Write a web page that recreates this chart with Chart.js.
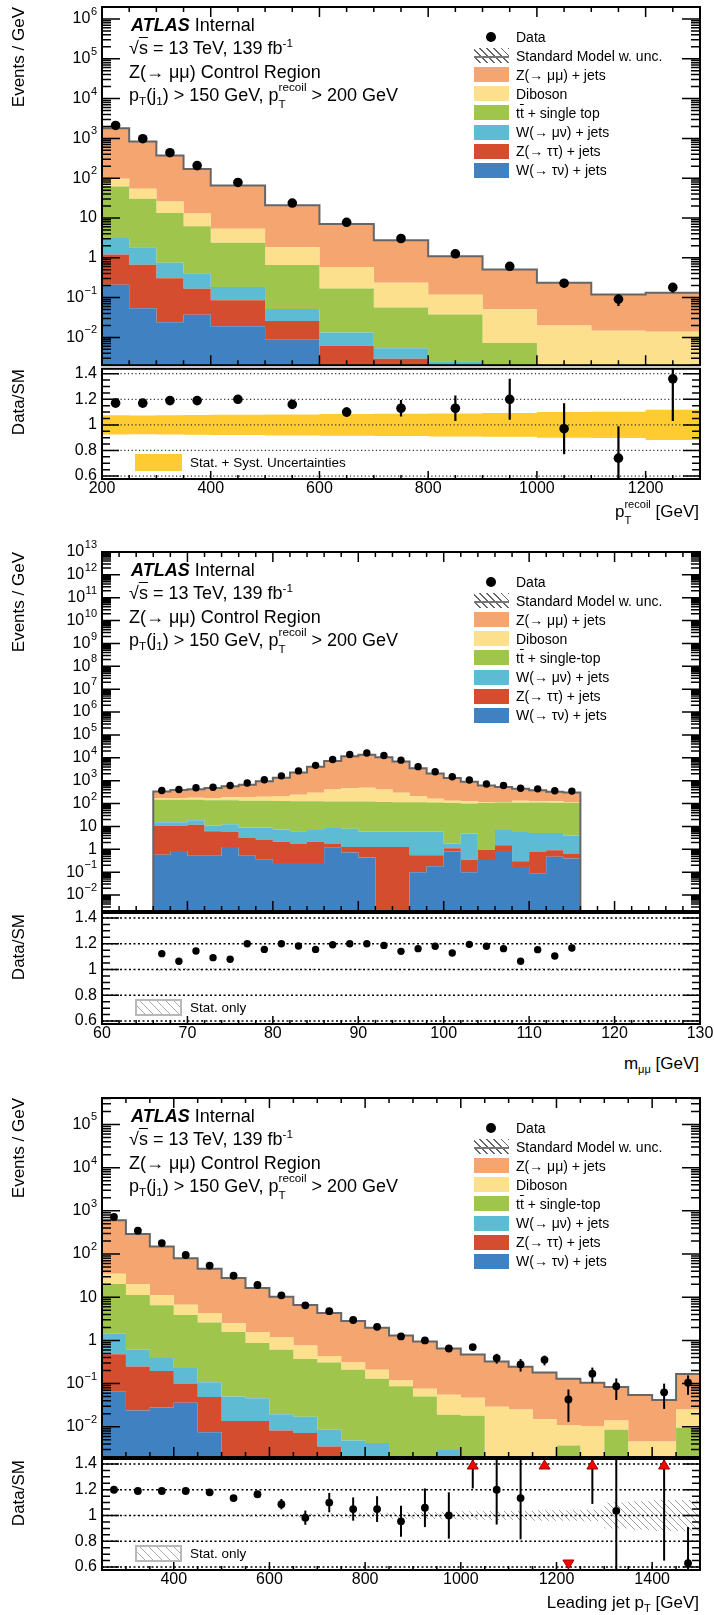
<!DOCTYPE html>
<html>
<head>
<meta charset="utf-8">
<title>Z(→μμ) control region</title>
<script src="https://cdn.jsdelivr.net/npm/chart.js@4.4.1/dist/chart.umd.min.js"></script>
<style>
  html, body { margin: 0; padding: 0; background: #fff; }
  #page { position: relative; width: 714px; height: 1615px; overflow: hidden;
          font-family: "Liberation Sans", Arial, Helvetica, sans-serif; color: #000; }
  #page canvas { position: absolute; left: 0; }
  .t { position: absolute; white-space: nowrap; line-height: 1; }
  .sup { font-size: 0.65em; position: relative; top: -0.6em; }
  .sub { font-size: 0.65em; position: relative; top: 0.4em; }
  .ss { display: inline-block; position: relative; font-size: 0.65em; }
  .ss .a { position: relative; top: -0.8em; }
  .ss .b { position: absolute; left: 0; top: 0.65em; }
  .ov { text-decoration: overline; }
  .vt { writing-mode: vertical-rl; transform: rotate(180deg); }
  .sw { position: absolute; }
</style>
</head>
<body>
<div id="page"></div>
<script>
// ---------- recoil pT panel ----------
const recoilEdges = [200, 250, 300, 350, 400, 500, 600, 700, 800, 900, 1000, 1100, 1200, 1300];
const recoilData = [2110, 980, 437, 207, 78, 23.7, 7.8, 3.05, 1.26, 0.61, 0.23, 0.091, 0.18];
const recoilDataErr = [20, 10, 6, 3, 0.9, 0.5, 0.25, 0.18, 0.11, 0.08, 0.048, 0.03, 0.045];
const recoilZmumu = [1707, 776, 344, 158, 60.2, 19.0, 6.5, 2.53, 0.98, 0.46, 0.217, 0.105, 0.119];
const recoilDiboson = [34, 23.5, 12.7, 6.8, 3.0, 1.18, 0.42, 0.18, 0.08, 0.044, 0.02, 0.0147, 0.0139];
const recoilTop = [59, 28.7, 12.5, 5.8, 2.19, 0.61, 0.155, 0.051, 0.035, 0.0072, 0, 0, 0];
const recoilWmunu = [1.95, 1.18, 0.45, 0.24, 0.099, 0.026, 0.0071, 0.0024, 0.0025, 0, 0, 0, 0];
const recoilZtautau = [1.0, 0.61, 0.28, 0.13, 0.067, 0.017, 0.0062, 0.0029, 0, 0, 0, 0, 0];
const recoilWtaunu = [0.21, 0.054, 0.024, 0.037, 0.019, 0.0087, 0, 0, 0, 0, 0, 0, 0];
const recoilRatio = [1.17, 1.17, 1.19, 1.19, 1.2, 1.16, 1.1, 1.13, 1.13, 1.2, 0.97, 0.74, 1.36];
const recoilRatioErr = [0.01, 0.012, 0.013, 0.015, 0.013, 0.02, 0.035, 0.065, 0.1, 0.16, 0.2, 0.25, 0.33];
const recoilBand = [0.075, 0.074, 0.076, 0.077, 0.08, 0.082, 0.085, 0.087, 0.09, 0.093, 0.1, 0.103, 0.118];
const recoilTicks = [200, 400, 600, 800, 1000, 1200];

// ---------- m_mumu panel ----------
const mllEdges = [66, 68, 70, 72, 74, 76, 78, 80, 82, 84, 86, 88, 90, 92, 94, 96, 98, 100, 102, 104, 106, 108, 110, 112, 114, 116];
const mllData = [372, 410, 487, 518, 611, 795, 1100, 1630, 2680, 4690, 8470, 13900, 16300, 12600, 7900, 4100, 2440, 1480, 1070, 720, 611, 468, 440, 362, 350];
const mllZmumu = [157, 212, 246, 300, 379, 470, 748, 1145, 2028, 3747, 6767, 11212, 13098, 10267, 6634, 3328, 1921, 1175, 773, 497, 409, 307, 257, 203, 184];
const mllDiboson = [27, 27, 33, 36, 48, 58, 65, 83, 117, 170, 289, 347, 363, 293, 182, 92, 54, 27, 26, 11, 8, 24, 16, 19, 11];
const mllTop = [133, 133, 129, 128, 126, 125, 125, 123, 120, 119, 113, 114, 116, 112, 108, 108, 104, 105, 95, 106, 103, 104, 105, 102, 103];
const mllWmunu = [4.6, 4.6, 6.9, 4.9, 6.9, 5.9, 6.4, 5.1, 4.3, 4.9, 6.7, 6.6, 4.8, 4.8, 4.8, 5.5, 5.5, 0.7, 4.5, 0, 5.5, 5.4, 4.4, 4.3, 3.35];
const mllZtautau = [10.1, 9.9, 11.3, 5.6, 4.4, 2.6, 2.3, 1.9, 1.55, 1.9, 0.62, 0.54, 0.82, 1.26, 1.26, 0.45, 0.37, 0.3, 0.25, 0.6, 0.65, 0.13, 0.71, 0.43, 0.25];
const mllWtaunu = [0.57, 0.85, 0.52, 0.52, 1.26, 0.52, 0.37, 0.25, 0.25, 0.25, 1.18, 0.72, 0.44, 0, 0, 0.1, 0.18, 0.8, 0.1, 0.34, 0.85, 0.17, 0.09, 0.47, 0.4];
const mllRatio = [1.123, 1.064, 1.144, 1.092, 1.08, 1.2, 1.156, 1.2, 1.182, 1.156, 1.192, 1.2, 1.2, 1.187, 1.141, 1.162, 1.18, 1.128, 1.195, 1.18, 1.162, 1.064, 1.154, 1.105, 1.167];
const mllRatioErr = [0.025, 0.022, 0.02, 0.018, 0.016, 0.014, 0.012, 0.01, 0.008, 0.007, 0.006, 0.005, 0.005, 0.005, 0.006, 0.007, 0.009, 0.011, 0.012, 0.014, 0.016, 0.018, 0.02, 0.022, 0.025];
const mllBand = [0.012, 0.011, 0.01, 0.01, 0.009, 0.008, 0.007, 0.006, 0.005, 0.004, 0.003, 0.003, 0.003, 0.003, 0.003, 0.004, 0.005, 0.006, 0.007, 0.008, 0.009, 0.01, 0.01, 0.011, 0.012];
const mllTicks = [60, 70, 80, 90, 100, 110, 120, 130];

// ---------- leading jet pT panel ----------
const jetEdges = [250, 300, 350, 400, 450, 500, 550, 600, 650, 700, 750, 800, 850, 900, 950, 1000, 1050, 1100, 1150, 1200, 1250, 1300, 1350, 1400, 1450, 1500];
const jetData = [724, 348, 179, 95, 54, 31.4, 19.2, 11.1, 6.5, 4.76, 2.97, 2.06, 1.24, 1.0, 0.65, 0.70, 0.39, 0.28, 0.355, 0.043, 0.17, 0.087, 0, 0.063, 0.105];
const jetDataErr = [8, 6, 4, 3, 2, 1.3, 0.8, 0.5, 0.35, 0.3, 0.25, 0.2, 0.15, 0.14, 0.11, 0.12, 0.1, 0.09, 0.09, 0.03, 0.065, 0.045, 0, 0.037, 0.05];
const jetZmumu = [568, 272, 139, 73, 41.5, 25.2, 14.9, 9.0, 5.84, 3.89, 2.52, 1.75, 1.18, 0.864, 0.595, 0.423, 0.296, 0.222, 0.165, 0.119, 0.094, 0.070, 0.050, 0.037, 0.142];
const jetDiboson = [14.7, 8.8, 4.7, 2.8, 1.7, 0.93, 0.69, 0.59, 0.39, 0.13, 0.10, 0.08, 0.033, 0.026, 0.036, 0.029, 0.029, 0.025, 0.015, 0.0073, 0.0104, 0.0055, 0.0046, 0.0046, 0.0155];
const jetTop = [18.9, 10.6, 6.1, 3.67, 2.49, 1.52, 0.83, 0.59, 0.353, 0.30, 0.205, 0.126, 0.087, 0.05, 0.016, 0.018, 0, 0, 0, 0.0037, 0, 0.0085, 0, 0, 0.0095];
const jetWmunu = [0.96, 0.36, 0.195, 0.13, 0.059, 0.037, 0.032, 0.0114, 0.0098, 0.005, 0.0048, 0.0042, 0, 0, 0.0029, 0, 0, 0, 0, 0, 0, 0, 0, 0, 0];
const jetZtautau = [0.41, 0.226, 0.167, 0.064, 0.0415, 0.0136, 0.0136, 0.0082, 0.0072, 0.0035, 0, 0, 0, 0, 0, 0, 0, 0, 0, 0, 0, 0, 0, 0, 0];
const jetWtaunu = [0.067, 0.024, 0.028, 0.036, 0.0075, 0, 0, 0, 0, 0, 0, 0, 0, 0, 0, 0, 0, 0, 0, 0, 0, 0, 0, 0, 0];
const jetRatio = [1.2, 1.19, 1.19, 1.19, 1.18, 1.135, 1.165, 1.088, 0.983, 1.1, 1.05, 1.05, 0.955, 1.06, 1.0, 1.49, 1.2, 1.135, 1.97, 0.33, 1.63, 1.036, null, 1.5, 0.63];
const jetRatioErr = [0.006, 0.007, 0.008, 0.01, 0.012, 0.015, 0.025, 0.04, 0.055, 0.075, 0.09, 0.1, 0.12, 0.15, 0.18, 0.28, 0.27, 0.32, 0.45, 0.23, 0.54, 0.5, 0, 0.85, 0.28];
const jetBand = [0.004, 0.005, 0.006, 0.007, 0.008, 0.01, 0.012, 0.014, 0.016, 0.018, 0.02, 0.022, 0.025, 0.028, 0.03, 0.033, 0.035, 0.035, 0.04, 0.04, 0.045, 0.1, 0.11, 0.12, 0.12];
const jetTicks = [400, 600, 800, 1000, 1200, 1400];

const ratioTicks = [0.6, 0.8, 1, 1.2, 1.4];

// ---------- styling ----------
const C = {
  zmumu: '#f4a570', diboson: '#fde08d', top: '#9fc54c', wmunu: '#5dbcd3',
  ztautau: '#d54d2f', wtaunu: '#3f81c1', band: '#fecb30', sm: '#666666'
};
const FONT = '"Liberation Sans", Arial, Helvetica, sans-serif';
const page = document.getElementById('page');

function addDiv(html, style, cls) {
  const d = document.createElement('div');
  d.className = 't' + (cls ? ' ' + cls : '');
  d.innerHTML = html;
  Object.assign(d.style, style);
  page.appendChild(d);
  return d;
}
const px = v => v + 'px';
const SS = (up, dn) => `<span class="ss"><span class="a">${up}</span><span class="b">${dn}</span></span>`;

function centers(edges) { return edges.slice(0, -1).map((e, i) => (e + edges[i + 1]) / 2); }
function steps(edges, vals, floor) {
  const pts = vals.map((v, i) => ({ x: edges[i], y: Math.max(v, floor) }));
  pts.push({ x: edges[edges.length - 1], y: Math.max(vals[vals.length - 1], floor) });
  return pts;
}
function range(a, b, s) { const o = []; for (let v = a; v <= b + 1e-9; v += s) o.push(+v.toFixed(6)); return o; }

function hatchPattern(color, s, w) {
  const c = document.createElement('canvas');
  c.width = s; c.height = s;
  const g = c.getContext('2d');
  g.strokeStyle = color; g.lineWidth = w;
  g.beginPath();
  g.moveTo(0, 0); g.lineTo(s, s);
  g.moveTo(-s, 0); g.lineTo(s, 2 * s);
  g.moveTo(0, -s); g.lineTo(2 * s, s);
  g.stroke();
  return g.createPattern(c, 'repeat');
}

// ROOT-like frame, ticks, labels, error bars drawn through the chart scales
function rootPlugin(spec) {
  return {
    id: 'rootFrame',
    beforeDatasetDraw(chart, args) {
      if (args.index !== 0 || !spec.grid) return;
      const { ctx, chartArea: a, scales: { y } } = chart;
      ctx.save();
      ctx.strokeStyle = spec.gridColor; ctx.lineWidth = spec.gridWidth; ctx.setLineDash(spec.gridDash);
      spec.grid.forEach(v => {
        const py = y.getPixelForValue(v);
        ctx.beginPath(); ctx.moveTo(a.left, py); ctx.lineTo(a.right, py); ctx.stroke();
      });
      ctx.restore();
    },
    afterDatasetsDraw(chart) {
      const { ctx, chartArea: a, scales: { x, y } } = chart;
      if (!spec.err) return;
      ctx.save();
      ctx.beginPath(); ctx.rect(a.left, a.top, a.right - a.left, a.bottom - a.top); ctx.clip();
      ctx.strokeStyle = '#000'; ctx.lineWidth = spec.errWidth;
      spec.err.x.forEach((c, i) => {
        const v = spec.err.v[i], e = spec.err.e[i];
        if (v == null || !v || !e) return;
        const lo = v - e, hi = v + e;
        const pLo = lo > 0 ? y.getPixelForValue(lo) : a.bottom + 10;
        const pHi = y.getPixelForValue(hi);
        const cx = x.getPixelForValue(c);
        ctx.beginPath(); ctx.moveTo(cx, pLo); ctx.lineTo(cx, pHi); ctx.stroke();
      });
      ctx.restore();
      if (spec.arrows) {
        ctx.save();
        ctx.fillStyle = '#ff0000'; ctx.strokeStyle = '#990000'; ctx.lineWidth = 1;
        spec.err.x.forEach((c, i) => {
          const v = spec.err.v[i];
          if (v == null) return;
          const cx = x.getPixelForValue(c);
          if (v > y.max) {
            ctx.beginPath(); ctx.moveTo(cx, a.top + 1); ctx.lineTo(cx + 5.5, a.top + 10); ctx.lineTo(cx - 5.5, a.top + 10); ctx.closePath();
            ctx.fill(); ctx.stroke();
          } else if (v < y.min) {
            ctx.beginPath(); ctx.moveTo(cx, a.bottom - 1); ctx.lineTo(cx + 5.5, a.bottom - 10); ctx.lineTo(cx - 5.5, a.bottom - 10); ctx.closePath();
            ctx.fill(); ctx.stroke();
          }
        });
        ctx.restore();
      }
    },
    afterDraw(chart) {
      const { ctx, chartArea: a, scales: { x, y } } = chart;
      ctx.save();
      ctx.strokeStyle = '#000'; ctx.fillStyle = '#000'; ctx.lineWidth = 1.5;
      ctx.beginPath();
      // x ticks
      spec.xMinor.concat(spec.xMajor).forEach(t => {
        const major = spec.xMajor.includes(t);
        const cx = x.getPixelForValue(t);
        const len = major ? spec.xLen[0] : spec.xLen[1];
        ctx.moveTo(cx, a.bottom); ctx.lineTo(cx, a.bottom - len);
        if (spec.xTop) { ctx.moveTo(cx, a.top); ctx.lineTo(cx, a.top + len); }
      });
      // y ticks
      const yt = [];
      if (spec.log) {
        const n0 = Math.floor(Math.log10(y.min)), n1 = Math.ceil(Math.log10(y.max));
        for (let n = n0; n <= n1; n++) {
          for (let k = 1; k <= 9; k++) {
            const v = k * Math.pow(10, n);
            if (v >= y.min && v <= y.max) yt.push([v, k === 1]);
          }
        }
      } else {
        range(0.6, 1.4, 0.05).forEach(v => { if (v >= y.min && v <= y.max) yt.push([v, spec.yMajor.some(m => Math.abs(m - v) < 1e-6)]); });
      }
      yt.forEach(([v, major]) => {
        const py = y.getPixelForValue(v);
        const len = major ? spec.yLen[0] : spec.yLen[1];
        ctx.moveTo(a.left, py); ctx.lineTo(a.left + len, py);
        ctx.moveTo(a.right, py); ctx.lineTo(a.right - len, py);
      });
      ctx.stroke();
      // frame
      ctx.lineWidth = 2;
      ctx.strokeRect(a.left, a.top, a.right - a.left, a.bottom - a.top);
      // labels
      const xr = a.left - 5;
      ctx.textBaseline = 'middle';
      if (spec.log) {
        const n0 = Math.ceil(Math.log10(y.min)), n1 = Math.floor(Math.log10(y.max) + 1e-9);
        for (let n = n0; n <= n1; n++) {
          const py = y.getPixelForValue(Math.pow(10, n));
          if (n === 0 || n === 1) {
            ctx.font = '16px ' + FONT; ctx.textAlign = 'right';
            ctx.fillText(n === 0 ? '1' : '10', xr, py);
          } else {
            const sup = n < 0 ? '\u2212' + (-n) : String(n);
            ctx.font = '11px ' + FONT;
            const sw = ctx.measureText(sup).width;
            ctx.textAlign = 'left';
            ctx.fillText(sup, xr - sw, py - 7);
            ctx.font = '16px ' + FONT; ctx.textAlign = 'right';
            ctx.fillText('10', xr - sw - 0.5, py);
          }
        }
      } else {
        ctx.font = '16px ' + FONT; ctx.textAlign = 'right';
        spec.yMajor.forEach(v => ctx.fillText(String(v), xr, y.getPixelForValue(v)));
      }
      if (spec.xLabels) {
        ctx.font = '16px ' + FONT; ctx.textAlign = 'center'; ctx.textBaseline = 'top';
        spec.xLabels.forEach(v => ctx.fillText(String(v), x.getPixelForValue(v), a.bottom + 2));
      }
      ctx.restore();
    }
  };
}

function makeCanvas(top, height) {
  const c = document.createElement('canvas');
  c.width = 714; c.height = height;
  c.style.top = px(top); c.style.width = '714px'; c.style.height = px(height);
  page.appendChild(c);
  return c;
}

function baseOptions(pad, xs, ys) {
  return {
    responsive: false, animation: false, devicePixelRatio: 1, events: [],
    layout: { padding: pad },
    elements: { line: { tension: 0 } },
    plugins: { legend: { display: false }, tooltip: { enabled: false } },
    scales: { x: Object.assign({ type: 'linear', display: false }, xs), y: Object.assign({ display: false }, ys) }
  };
}

function drawPanel(p, L) {
  const floor = 1e-5;
  const mids = centers(p.edges);
  // ---- main ----
  const procs = [p.wtaunu, p.ztautau, p.wmunu, p.top, p.diboson, p.zmumu];
  const cols = [C.wtaunu, C.ztautau, C.wmunu, C.top, C.diboson, C.zmumu];
  let run = p.zmumu.map(() => 0);
  const stack = procs.map((arr, k) => {
    run = run.map((v, i) => v + arr[i]);
    return { data: steps(p.edges, run, floor), stepped: true, fill: k === 0 ? 'start' : '-1',
      backgroundColor: cols[k], borderColor: 'rgba(0,0,0,0)', borderWidth: 1, pointRadius: 0 };
  });
  const outline = [{ x: p.edges[0], y: floor }].concat(steps(p.edges, run, floor), [{ x: p.edges[p.edges.length - 1], y: floor }]);
  const mainSets = [
    { data: mids.map((c, i) => ({ x: c, y: p.data[i] > 0 ? p.data[i] : null })), showLine: false,
      pointRadius: p.dot, pointBackgroundColor: '#000', pointBorderWidth: 0 },
    { data: outline, stepped: true, fill: false, borderColor: C.sm, borderWidth: 2, pointRadius: 0 }
  ].concat(stack);
  const mTop = L.T - 12, mH = L.S + 3 - mTop;
  const xMajor = p.xMajor, xMinor = range(p.xMin, p.xMax, p.xMinorStep).filter(v => !xMajor.includes(v));
  new Chart(makeCanvas(mTop, mH), {
    type: 'line',
    data: { datasets: mainSets },
    options: baseOptions({ top: 12, bottom: 3, left: 102, right: 14 },
      { min: p.xMin, max: p.xMax }, { type: 'logarithmic', min: p.yMin, max: p.yMax }),
    plugins: [rootPlugin({ log: true, xMajor, xMinor, xLen: [10, 5], yLen: [18, 9], xTop: true,
      err: p.dataErr ? { x: mids, v: p.data, e: p.dataErr } : null, errWidth: p.errW })]
  });
  // ---- ratio ----
  const rMin = 0.577, rMax = 1.4385;
  const bandFill = p.yellow ? C.band : hatchPattern('#a0a0a0', 7, 1);
  const ratioSets = [
    { data: mids.map((c, i) => { const v = p.ratio[i]; return { x: c, y: (v == null || v > rMax || v < rMin) ? null : v }; }),
      showLine: false, pointRadius: p.dot, pointBackgroundColor: '#000', pointBorderWidth: 0 },
    { data: steps(p.edges, p.band.map(b => 1 - b), 0), stepped: true, fill: false, borderColor: 'rgba(0,0,0,0)', borderWidth: 1, pointRadius: 0 },
    { data: steps(p.edges, p.band.map(b => 1 + b), 0), stepped: true, fill: '-1', backgroundColor: bandFill, borderColor: 'rgba(0,0,0,0)', borderWidth: 1, pointRadius: 0 }
  ];
  const rTop = L.S - 3, rH = L.B + 30 - rTop;
  new Chart(makeCanvas(rTop, rH), {
    type: 'line',
    data: { datasets: ratioSets },
    options: baseOptions({ top: 3, bottom: 30, left: 102, right: 14 },
      { min: p.xMin, max: p.xMax }, { type: 'linear', min: rMin, max: rMax }),
    plugins: [rootPlugin({ log: false, xMajor, xMinor, xLen: [8, 4], yLen: [17, 8], xTop: false,
      yMajor: ratioTicks, xLabels: p.xLabels,
      grid: ratioTicks, gridColor: p.yellow ? '#333' : '#000', gridWidth: p.yellow ? 1.2 : 1.6, gridDash: p.yellow ? [1.2, 2.5] : [2, 2.5],
      err: { x: mids, v: p.ratio, e: p.ratioErr }, errWidth: p.errW, arrows: true })]
  });

  // ---- text overlays ----
  const T = L.T;
  addDiv('<b><i>ATLAS</i></b> Internal', { left: '131px', top: px(T + 8.7), fontSize: '18px' });
  addDiv('\u221A<span class="ov">s</span> = 13 TeV, 139 fb<span class="sup">-1</span>', { left: '129px', top: px(T + 32.2), fontSize: '18px' });
  addDiv('Z(\u2192 \u03BC\u03BC) Control Region', { left: '129px', top: px(T + 56.2), fontSize: '18px' });
  addDiv('p<span class="sub">T</span>(j<span class="sub">1</span>) &gt; 150 GeV, p' + SS('recoil', 'T') + ' &gt; 200 GeV',
    { left: '129px', top: px(T + 78.7), fontSize: '18px' });

  const rows = [
    ['data', 'Data'],
    ['sm', 'Standard Model w. unc.'],
    [C.zmumu, 'Z(\u2192 \u03BC\u03BC) + jets'],
    [C.diboson, 'Diboson'],
    [C.top, 't<span class="ov">t</span> + ' + p.topLabel],
    [C.wmunu, 'W(\u2192 \u03BC\u03BD) + jets'],
    [C.ztautau, 'Z(\u2192 \u03C4\u03C4) + jets'],
    [C.wtaunu, 'W(\u2192 \u03C4\u03BD) + jets']
  ];
  rows.forEach(([kind, label], i) => {
    const cy = T + 29.5 + 19.1 * i;
    const sw = document.createElement('div');
    sw.className = 'sw';
    if (kind === 'data') {
      Object.assign(sw.style, { left: px(486), top: px(cy - 5), width: '10px', height: '10px', borderRadius: '50%', background: '#000' });
    } else if (kind === 'sm') {
      Object.assign(sw.style, { left: px(474), top: px(cy - 7.5), width: '35px', height: '15px',
        background: 'linear-gradient(#777,#777) 0 60%/100% 2px no-repeat, repeating-linear-gradient(45deg, #fff 0 4px, #666 4px 5px)' });
    } else {
      Object.assign(sw.style, { left: px(474), top: px(cy - 7.5), width: '35px', height: '15px', background: kind });
    }
    page.appendChild(sw);
    addDiv(label, { left: '516px', top: px(cy - 6.9), fontSize: '14px' });
  });

  addDiv('Events / GeV', { left: '10px', top: px(T), fontSize: '17px' }, 'vt');
  addDiv('Data/SM', { left: '10px', top: px(L.S + 2), fontSize: '17px' }, 'vt');
  addDiv(p.xTitle, { right: '15px', top: px(L.B + L.xTitleDy - 8.3), fontSize: '17px' });

  // ratio legend
  const lb = document.createElement('div');
  lb.className = 'sw';
  Object.assign(lb.style, { left: '135px', top: px(L.B - 25), width: '47px', height: '17px', boxSizing: 'border-box' });
  if (p.yellow) lb.style.background = C.band;
  else Object.assign(lb.style, { border: '2px solid #b8b8b8', background: 'repeating-linear-gradient(45deg, #fff 0 5px, #aaa 5px 6px)' });
  page.appendChild(lb);
  addDiv(p.yellow ? 'Stat. + Syst. Uncertainties' : 'Stat. only', { left: '190px', top: px(L.B - 16.5 - 6.6), fontSize: '13.5px' });
}

drawPanel({
  edges: recoilEdges, data: recoilData, dataErr: recoilDataErr,
  zmumu: recoilZmumu, diboson: recoilDiboson, top: recoilTop, wmunu: recoilWmunu, ztautau: recoilZtautau, wtaunu: recoilWtaunu,
  ratio: recoilRatio, ratioErr: recoilRatioErr, band: recoilBand, yellow: true,
  xMin: 200, xMax: 1300, xMajor: recoilTicks, xMinorStep: 50, xLabels: recoilTicks,
  yMin: 0.002, yMax: 2e6, dot: 4.8, errW: 2.2, topLabel: 'single top',
  xTitle: 'p' + SS('recoil', 'T') + ' [GeV]'
}, { T: 7, S: 367, B: 479, xTitleDy: 32 });

drawPanel({
  edges: mllEdges, data: mllData, dataErr: null,
  zmumu: mllZmumu, diboson: mllDiboson, top: mllTop, wmunu: mllWmunu, ztautau: mllZtautau, wtaunu: mllWtaunu,
  ratio: mllRatio, ratioErr: mllRatioErr, band: mllBand, yellow: false,
  xMin: 60, xMax: 130, xMajor: mllTicks, xMinorStep: 2, xLabels: mllTicks,
  yMin: 0.002, yMax: 1e13, dot: 3.7, errW: 1.8, topLabel: 'single-top',
  xTitle: 'm<span class="sub">\u03BC\u03BC</span> [GeV]'
}, { T: 552, S: 912, B: 1024, xTitleDy: 39 });

drawPanel({
  edges: jetEdges, data: jetData, dataErr: jetDataErr,
  zmumu: jetZmumu, diboson: jetDiboson, top: jetTop, wmunu: jetWmunu, ztautau: jetZtautau, wtaunu: jetWtaunu,
  ratio: jetRatio, ratioErr: jetRatioErr, band: jetBand, yellow: false,
  xMin: 250, xMax: 1500, xMajor: jetTicks, xMinorStep: 50, xLabels: jetTicks,
  yMin: 0.002, yMax: 4.1e5, dot: 3.9, errW: 2, topLabel: 'single-top',
  xTitle: 'Leading jet p<span class="sub">T</span> [GeV]'
}, { T: 1098, S: 1458, B: 1570, xTitleDy: 32 });
</script>
</body>
</html>
